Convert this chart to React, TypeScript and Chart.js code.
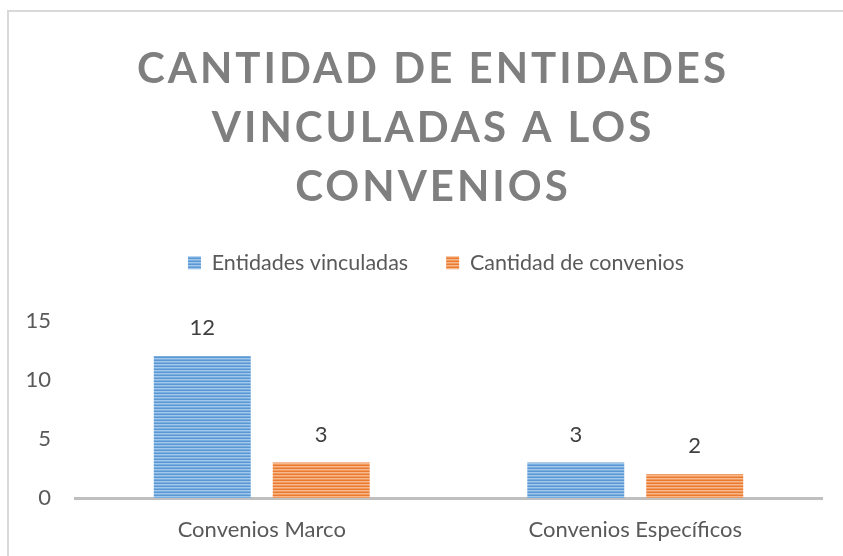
import { useEffect, useRef } from 'react';
import { Chart, registerables } from 'chart.js';

Chart.register(...registerables);

const categories = ['Convenios Marco', 'Convenios Específicos'];
const seriesNames = ['Entidades vinculadas', 'Cantidad de convenios'];
const entidades = [12, 3];
const cantidad = [3, 2];
const titleLines = ['CANTIDAD DE ENTIDADES', 'VINCULADAS A LOS', 'CONVENIOS'];
const yMin = 0;
const yMax = 15;
const yStep = 5;

const FONT = 'Lato';

function makePattern(ctx: CanvasRenderingContext2D, colors: string[]) {
  const c = document.createElement('canvas');
  c.width = 2;
  c.height = colors.length;
  const x = c.getContext('2d')!;
  colors.forEach((col, i) => {
    x.fillStyle = col;
    x.fillRect(0, i, 2, 1);
  });
  return ctx.createPattern(c, 'repeat')!;
}

export default function App() {
  const ref = useRef<HTMLCanvasElement>(null);

  useEffect(() => {
    const canvas = ref.current!;
    const ctx = canvas.getContext('2d')!;
    const blue = makePattern(ctx, ['#5b97d3', '#a3c7ea', '#79aee0']);
    const orange = makePattern(ctx, ['#ec7a2e', '#f6b88e', '#f19a5e']);

    const framePlugin = {
      id: 'frame',
      beforeDraw(chart: any) {
        const c = chart.ctx;
        c.save();
        c.fillStyle = '#ffffff';
        c.fillRect(0, 0, chart.width, chart.height);
        c.strokeStyle = '#d9d9d9';
        c.lineWidth = 2;
        c.strokeRect(8, 11, chart.width + 20, chart.height + 20);
        c.restore();
      },
    };

    const patchPlugin = {
      id: 'patch',
      afterInit(chart: any) {
        const tb = chart.titleBlock;
        if (tb) {
          const origDraw = tb.draw.bind(tb);
          tb.draw = (...args: any[]) => {
            const c = chart.ctx;
            c.save();
            c.translate(22, 0);
            (c as any).letterSpacing = '3px';
            origDraw(...args);
            c.restore();
          };
        }
        const lg = chart.legend;
        if (lg) {
          const origFit = lg.fit.bind(lg);
          lg.fit = () => {
            origFit();
            lg.height += 34;
          };
          const origLgDraw = lg.draw.bind(lg);
          lg.draw = (...args: any[]) => {
            const c = chart.ctx;
            c.save();
            c.translate(25, -3);
            origLgDraw(...args);
            c.restore();
          };
        }
      },
    };

    const valueLabels = {
      id: 'valueLabels',
      afterDatasetsDraw(chart: any) {
        const c = chart.ctx;
        c.save();
        c.fillStyle = '#404040';
        c.font = `22px ${FONT}`;
        c.textAlign = 'center';
        c.textBaseline = 'middle';
        chart.data.datasets.forEach((ds: any, di: number) => {
          const meta = chart.getDatasetMeta(di);
          meta.data.forEach((bar: any, i: number) => {
            c.fillText(String(ds.data[i]), bar.x, bar.y - 28);
          });
        });
        c.restore();
      },
    };

    const chart = new Chart(canvas, {
      type: 'bar',
      data: {
        labels: categories,
        datasets: [
          {
            label: seriesNames[0],
            data: entidades,
            backgroundColor: blue,
            borderWidth: 0,
            categoryPercentage: 0.637,
            barPercentage: 0.815,
          },
          {
            label: seriesNames[1],
            data: cantidad,
            backgroundColor: orange,
            borderWidth: 0,
            categoryPercentage: 0.637,
            barPercentage: 0.815,
          },
        ],
      },
      options: {
        responsive: false,
        animation: false,
        layout: { padding: { left: 0, right: 21, top: 0, bottom: 0 } },
        plugins: {
          title: {
            display: true,
            text: titleLines,
            color: '#7f7f7f',
            font: { family: FONT, size: 42, weight: 'bold', lineHeight: '59px' },
            padding: { top: 40, bottom: 0 },
          },
          legend: {
            position: 'top',
            labels: {
              boxWidth: 13,
              boxHeight: 13,
              color: '#595959',
              font: { family: FONT, size: 21.5 },
              padding: 38,
            },
          },
          tooltip: { enabled: false },
        },
        scales: {
          x: {
            grid: { display: false, drawTicks: false },
            border: { display: true, color: '#bfbfbf', width: 3 },
            ticks: { color: '#595959', font: { family: FONT, size: 22 }, padding: 19 },
            afterFit: (s: any) => {
              s.height = 58;
            },
          },
          y: {
            min: yMin,
            max: yMax,
            ticks: { stepSize: yStep, color: '#595959', font: { family: FONT, size: 22 }, padding: 24 },
            grid: { display: false, drawTicks: false },
            border: { display: false },
            afterFit: (s: any) => {
              s.width = 75;
            },
          },
        },
      },
      plugins: [framePlugin, patchPlugin, valueLabels],
    } as any);

    chart.update();

    return () => chart.destroy();
  }, []);

  return (
    <div style={{ position: 'fixed', left: 0, top: 0, width: 843, height: 556, background: '#fff' }}>
      <canvas ref={ref} width={843} height={556} style={{ display: 'block', width: 843, height: 556 }} />
    </div>
  );
}
